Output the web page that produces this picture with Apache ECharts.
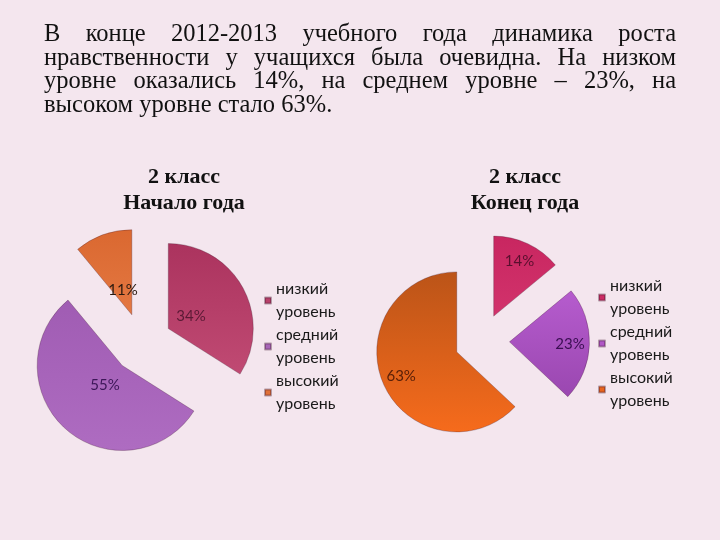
<!DOCTYPE html>
<html><head><meta charset="utf-8">
<script src="https://cdn.jsdelivr.net/npm/echarts@6/dist/echarts.min.js"></script>
<style>html,body{margin:0;padding:0;background:#f4e6ee}#c{width:720px;height:540px}</style>
</head><body><div id="c"></div>
<script>
// ---- data ----
const categories = ['низкий уровень', 'средний уровень', 'высокий уровень'];
const startValues = [34, 55, 11];
const endValues = [14, 23, 63];
const chartTitles = ['2 класс\nНачало года', '2 класс\nКонец года'];
const paragraphLines = [
  'В конце 2012-2013 учебного года динамика роста',
  'нравственности у учащихся была очевидна. На низком',
  'уровне оказались 14%, на среднем уровне – 23%, на',
  'высоком уровне стало 63%.'
];

// ---- styles ----
const BG = '#f4e6ee';
const leftGrad = [['#ab335e', '#c04a73'], ['#a05cb3', '#ae6cc1'], ['#da6830', '#e47842']];
const rightGrad = [['#c82660', '#d2336c'], ['#b65cce', '#9a47b0'], ['#bb5418', '#f66b1c']];
const leftLegend = ['#b8406a', '#a866b8', '#e07038'];
const rightLegend = ['#cc2c64', '#b057c6', '#e8641e'];
const leftLabel = ['#5b1a35', '#3c1658', '#2a1a10'];
const rightLabel = ['#5a0f2e', '#3a0e52', '#5a2008'];
const serif = '"Liberation Serif", "Times New Roman", serif';
const sans = 'Lato, "Open Sans", sans-serif';

const chart = echarts.init(document.getElementById('c'));

function grad(c) {
  return new echarts.graphic.LinearGradient(0, 0, 0, 1, [{offset: 0, color: c[0]}, {offset: 1, color: c[1]}]);
}

function pieSeries(values, center, radius, offset, grads, labelColors, labelK) {
  const total = values.reduce((a, b) => a + b, 0);
  let acc = 0;
  const mids = values.map(v => { const m = (acc + v / 2) / total * 2 * Math.PI; acc += v; return m; });
  return {
    type: 'pie', center: center, radius: radius, startAngle: 90, clockwise: true,
    selectedMode: 'multiple', selectedOffset: offset, animation: false,
    emphasis: {disabled: true, scale: false},
    itemStyle: {borderColor: 'rgba(60,20,40,0.35)', borderWidth: 0.8},
    label: {show: true, position: 'inside', formatter: '{c}%', fontSize: 15, fontFamily: sans},
    labelLine: {show: false},
    labelLayout: function (p) {
      const m = mids[p.dataIndex];
      const f = (labelK - 0.5) * radius;
      return {dx: f * Math.sin(m), dy: -f * Math.cos(m)};
    },
    data: values.map((v, i) => ({
      name: categories[i], value: v, selected: true,
      itemStyle: {color: grad(grads[i])},
      select: {itemStyle: {color: grad(grads[i]), borderColor: 'rgba(60,20,40,0.35)', borderWidth: 0.8}},
      label: {color: labelColors[i]}
    }))
  };
}

function legend(left, top, colors) {
  return {
    orient: 'vertical', left: left, top: top, itemWidth: 6, itemHeight: 6, itemGap: 1,
    icon: 'rect', selectedMode: false, padding: 0,
    data: categories.map((n, i) => ({name: n, itemStyle: {color: colors[i]}})),
    formatter: n => n.replace(' ', '\n'),
    textStyle: {fontFamily: sans, fontSize: 16, lineHeight: 22.5, color: '#1a1a1a'}
  };
}

// paragraph words, justified
const ctx = document.createElement('canvas').getContext('2d');
const pFont = '24.5px ' + serif;
ctx.font = pFont;
const pLeft = 44, pRight = 676, pTop = 35, pStep = 23.5;
const graphics = [];
paragraphLines.forEach((line, li) => {
  const words = line.split(' ');
  const widths = words.map(w => ctx.measureText(w).width);
  const sum = widths.reduce((a, b) => a + b, 0);
  const last = li === paragraphLines.length - 1;
  const gap = last ? ctx.measureText(' ').width : (pRight - pLeft - sum) / (words.length - 1);
  let x = pLeft;
  words.forEach((w, wi) => {
    graphics.push({type: 'text', x: x, y: pTop + li * pStep,
      style: {text: w, font: pFont, fill: '#111', textVerticalAlign: 'middle', verticalAlign: 'middle'}});
    x += widths[wi] + gap;
  });
});
[[184, chartTitles[0]], [525, chartTitles[1]]].forEach(t => {
  graphics.push({type: 'text', x: t[0], y: 164,
    style: {text: t[1], font: 'bold 22px ' + serif, fill: '#111', align: 'center', lineHeight: 26}});
});

chart.setOption({
  backgroundColor: BG,
  animation: false,
  graphic: graphics,
  legend: [legend(264, 278, leftLegend), legend(598, 275, rightLegend)],
  series: [
    pieSeries(startValues, [142, 343], 85, 30, leftGrad, leftLabel, 0.27),
    pieSeries(endValues, [482, 341], 80, 27.5, rightGrad, rightLabel, 0.72)
  ]
});
</script></body></html>
